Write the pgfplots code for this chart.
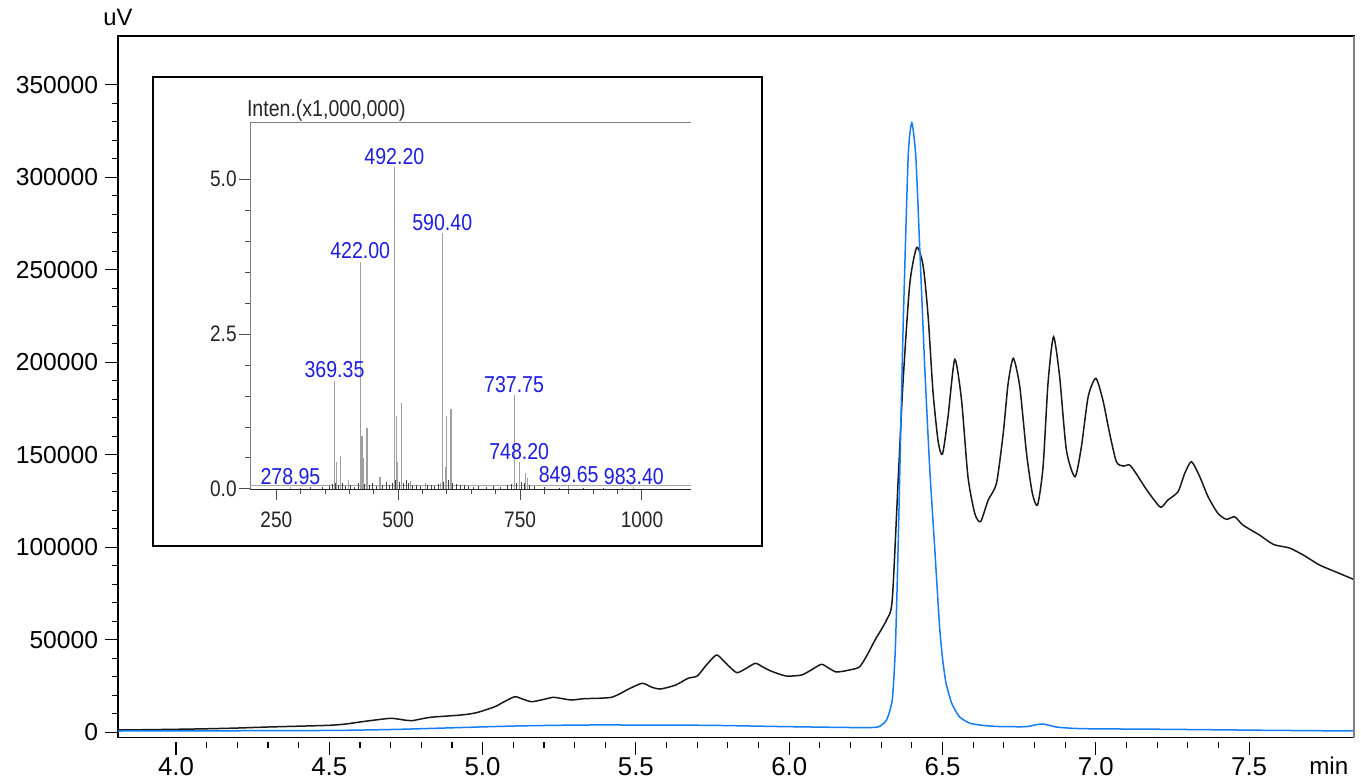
\documentclass[border=0pt]{standalone}
\usepackage{fontspec}
\setmainfont{Liberation Sans}
\newfontfamily\narrow[FakeStretch=0.85]{Liberation Sans}
\usepackage{pgfplots}
\pgfplotsset{compat=1.18}
\definecolor{trblue}{RGB}{20,125,245}
\definecolor{lblblue}{RGB}{30,30,225}
\begin{document}
\begin{tikzpicture}
\begin{axis}[
  at={(0,0)}, anchor=south west,
  scale only axis, width=618.15bp, height=350.85bp,
  xmin=3.811, xmax=7.843, ymin=-2920, ymax=376400,
  xtick={4,4.5,5,5.5,6,6.5,7,7.5},
  minor x tick num=4,
  ytick={0,50000,100000,150000,200000,250000,300000,350000},
  minor y tick num=4,
  tick align=outside, tick pos=left,
  major tick length=6.5bp, minor tick length=3bp,
  scaled ticks=false,
  /pgf/number format/assume math mode=true,
  yticklabel style={/pgf/number format/fixed, /pgf/number format/1000 sep={}, font=\fontsize{12.3bp}{14bp}\selectfont},
  xticklabel style={/pgf/number format/fixed, /pgf/number format/fixed zerofill, /pgf/number format/precision=1, font=\fontsize{12.9bp}{15bp}\selectfont},
  axis line style={line width=0.7bp},
  every tick/.style={black, line width=0.6bp},
  xtick style={yshift=-2bp},
  clip mode=individual,
]
\addplot[black!90, line width=0.75bp, smooth, tension=0.4] coordinates {
(3.811,1240) (3.9,1400) (4.0,1620) (4.1,1900) (4.2,2300) (4.3,2860) (4.4,3300) (4.5,3780)
(4.55,4400) (4.6,5570) (4.65,6650) (4.703,7560) (4.75,6500) (4.77,6270) (4.83,8100)
(4.93,9350) (4.98,10600) (5.04,13840) (5.07,16500) (5.105,19240) (5.13,18000) (5.16,16540)
(5.2,17800) (5.23,18900) (5.26,18200) (5.29,17460) (5.33,18160) (5.38,18400) (5.42,18900)
(5.45,21000) (5.47,22860) (5.52,26480) (5.55,24500) (5.58,23400) (5.63,25570) (5.67,29190)
(5.70,30430) (5.73,36380) (5.7625,41780) (5.785,38800) (5.805,35460) (5.83,32220) (5.86,34590)
(5.89,37290) (5.915,35200) (5.94,33130) (5.99,30430) (6.04,30970) (6.07,33500) (6.105,36750)
(6.13,34600) (6.155,32590) (6.2,33800) (6.23,35460) (6.255,42000) (6.28,49890) (6.3175,60700)
(6.336,71500) (6.355,135000) (6.371,188600) (6.393,242000) (6.416,262100) (6.437,252000)
(6.453,225000) (6.469,184000) (6.486,157000) (6.5,150400) (6.518,170600) (6.54,201600)
(6.562,179600) (6.583,138150) (6.605,118400) (6.624,113830) (6.649,125560) (6.676,134600)
(6.698,161600) (6.714,188600) (6.731,202150) (6.752,186800) (6.774,150800) (6.793,129200)
(6.81,122860) (6.828,143560) (6.844,188600) (6.862,213800) (6.882,192200) (6.904,152600)
(6.932,138150) (6.953,154400) (6.975,181400) (7.0,191340) (7.023,179600) (7.045,161600)
(7.067,146260) (7.089,143930) (7.11,144500) (7.131,140000) (7.159,132750) (7.186,126480)
(7.212,121600) (7.235,125560) (7.268,130050) (7.29,140000) (7.312,146260) (7.339,138150)
(7.366,127340) (7.398,118400) (7.426,115130) (7.453,116500) (7.48,112000) (7.534,106600)
(7.58,101500) (7.632,99600) (7.68,95500) (7.73,90400) (7.8,85500) (7.843,82500)
};
\addplot[trblue, line width=0.75bp, smooth, tension=0.35] coordinates {
(3.811,700) (4.0,750) (4.5,1000) (4.73,1620) (5.105,3400) (5.355,3950) (5.73,3780)
(5.98,3080) (6.23,2540) (6.29,2900) (6.3175,6650) (6.336,17460) (6.346,44500) (6.355,98500)
(6.371,215660) (6.388,311100) (6.400,329500) (6.413,311100) (6.426,260700) (6.442,197600)
(6.458,143560) (6.475,98500) (6.49,58000) (6.5,40000) (6.511,27000) (6.53,15670)
(6.555,8430) (6.59,4860) (6.64,3600) (6.69,3080) (6.774,3030) (6.8,3950) (6.828,4490)
(6.855,3500) (6.877,2700) (6.96,1950) (7.23,1620) (7.56,1080) (7.843,700)
};
\draw[gray, line width=1bp] (rel axis cs:1,0) -- (rel axis cs:1,1);
\node[anchor=south, font=\fontsize{11.9bp}{14bp}\selectfont, yshift=1.5bp] at (rel axis cs:0,1) {uV};
\node[anchor=base east, font=\fontsize{12.1bp}{14bp}\selectfont, yshift=-18.6bp, xshift=0.5bp] at (rel axis cs:1,0) {min};
\end{axis}
\draw[line width=1bp, fill=white] (17.5bp,95.85bp) rectangle (322bp,330.35bp);
\begin{axis}[
  at={(66bp,124.2bp)}, anchor=south west,
  scale only axis, width=220.35bp, height=183.3bp,
  xmin=196, xmax=1100, ymin=-0.005, ymax=5.91,
  axis x line*=bottom, axis y line*=left, axis line style={-},
  x axis line style={black!85, line width=0.6bp},
  y axis line style={gray, line width=0.5bp},
  xtick={250,500,750,1000}, minor x tick num=4,
  ytick={0,2.5,5}, minor y tick num=4,
  tick align=outside,
  major tick length=5.5bp, minor tick length=2.5bp,
  every tick/.style={gray!60!black, line width=0.5bp},
  scaled ticks=false,
  /pgf/number format/assume math mode=true,
  yticklabel style={/pgf/number format/fixed, /pgf/number format/fixed zerofill, /pgf/number format/precision=1, font=\narrow\fontsize{11.2bp}{12bp}\selectfont, text=black!85, inner xsep=1bp},
  xticklabel style={/pgf/number format/fixed, /pgf/number format/1000 sep={}, font=\narrow\fontsize{11.2bp}{12bp}\selectfont, text=black!85, yshift=-2.5bp},
  clip=false,
]
\addplot[gray!70, line width=0.5bp] coordinates {(196,0.06) (1100,0.06)};
\addplot[black!75, line width=0.4bp, ycomb] coordinates {
(300,0.02) (320,0.03) (345,0.04) (358,0.05) (365,0.08) (372,0.1) (378,0.06) (386,0.09)
(392,0.05) (401,0.07) (410,0.04) (418,0.1) (424,0.12) (430,0.08) (440,0.06) (448,0.09)
(455,0.05) (468,0.07) (475,0.11) (482,0.06) (488,0.1) (494,0.15) (502,0.12) (510,0.1)
(516,0.14) (520,0.09) (530,0.07) (538,0.06) (546,0.05) (560,0.06) (568,0.07) (575,0.05)
(583,0.08) (592,0.12) (602,0.15) (612,0.1) (620,0.08) (628,0.06) (636,0.07) (645,0.05)
(655,0.04) (665,0.05) (680,0.04) (695,0.05) (710,0.03) (725,0.06) (732,0.08) (742,0.1)
(753,0.12) (758,0.09) (770,0.06) (780,0.05) (800,0.03) (830,0.02) (880,0.02) (920,0.02) (960,0.02)
};
\addplot[gray!75, line width=0.6bp, ycomb] coordinates {
(278.95,0.03) (369.35,1.75) (374,0.43) (382,0.54) (397.8,0.14) (422.0,3.67) (425.8,0.86)
(427.8,0.5) (436,0.99) (462.5,0.2) (492.2,5.2) (496.7,1.17) (499,0.43) (507.5,1.38)
(524.5,0.13) (556.6,0.1) (587,0.1) (590.4,4.13) (597,0.36) (598.9,1.18) (608.3,1.29)
(737.75,1.51) (748.2,0.435) (761,0.26) (766,0.18) (849.65,0.07) (983.4,0.03)
};
\draw[gray, line width=0.5bp] (rel axis cs:0,1) -- (rel axis cs:1,1);
\node[anchor=base west, font=\narrow\fontsize{11.5bp}{13bp}\selectfont, text=black!85, xshift=-5bp, yshift=3bp] at (rel axis cs:0,1) {Inten.(x1,000,000)};
\begin{scope}[every node/.style={anchor=south, inner sep=0pt, yshift=1bp, text=lblblue, font=\narrow\fontsize{11.5bp}{13bp}\selectfont}]
\node at (axis cs:492.2,5.2) {492.20};
\node at (axis cs:422.0,3.67) {422.00};
\node at (axis cs:590.4,4.13) {590.40};
\node at (axis cs:369.35,1.75) {369.35};
\node at (axis cs:737.75,1.51) {737.75};
\node at (axis cs:748.2,0.435) {748.20};
\node at (axis cs:849.65,0.07) {849.65};
\node at (axis cs:983.4,0.03) {983.40};
\node at (axis cs:278.95,0.03) {278.95};
\end{scope}
\end{axis}
\pgfresetboundingbox
\path[use as bounding box] (-59bp,-21.15bp) rectangle (621.5bp,368.85bp);
\end{tikzpicture}
\end{document}
